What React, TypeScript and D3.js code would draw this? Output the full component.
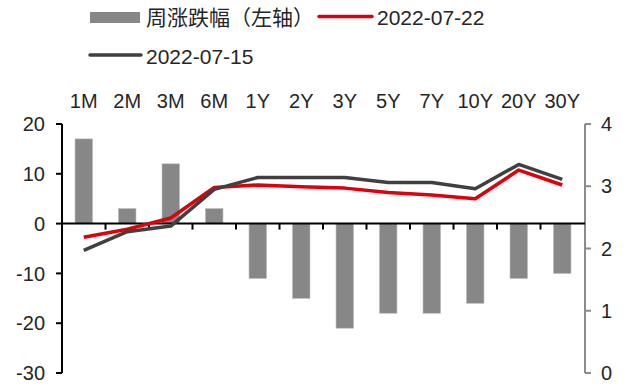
import React from "react";
import * as d3 from "d3";

const categories = ["1M", "2M", "3M", "6M", "1Y", "2Y", "3Y", "5Y", "7Y", "10Y", "20Y", "30Y"];
const weeklyChange = [17, 3, 12, 3, -11, -15, -21, -18, -18, -16, -11, -10];
const yield0722 = [2.18, 2.31, 2.49, 2.98, 3.02, 2.99, 2.97, 2.9, 2.86, 2.8, 3.26, 3.02];
const yield0715 = [1.97, 2.27, 2.36, 2.95, 3.14, 3.14, 3.14, 3.06, 3.06, 2.96, 3.35, 3.11];
const leftTicks = [20, 10, 0, -10, -20, -30];
const rightTicks = [4, 3, 2, 1, 0];
const legendBar = "周涨跌幅（左轴）";
const legendRed = "2022-07-22";
const legendDark = "2022-07-15";

const W = 627;
const H = 389;
const FONT = "'Liberation Sans', 'Noto Sans CJK SC', sans-serif";

export default function App() {
  const x = d3.scaleBand<string>().domain(categories).range([62, 584]).paddingInner(0).paddingOuter(0);
  const yL = d3.scaleLinear().domain([-30, 20]).range([373, 124]);
  const yR = d3.scaleLinear().domain([0, 4]).range([373, 124]);
  const bw = x.bandwidth() * 0.4;
  const cx = (c: string) => (x(c) as number) + x.bandwidth() / 2;

  const line = d3
    .line<number>()
    .x((_, i) => cx(categories[i]))
    .y((v) => yR(v));

  const boundaries = categories.map((c) => (x(c) as number) + x.bandwidth()).slice(0, -1);

  return (
    <svg width={W} height={H} style={{ position: "absolute", left: 0, top: 0, background: "#fff" }} fontFamily={FONT}>
      {/* legend */}
      <rect x={90} y={12} width={50} height={11} fill="#878787" />
      <text x={146} y={24.5} fontSize={21} fill="#262626">{legendBar}</text>
      <line x1={319} x2={372} y1={16.5} y2={16.5} stroke="#e0000b" strokeWidth={3.5} strokeLinecap="round" />
      <text x={377} y={24.5} fontSize={21} fill="#262626">{legendRed}</text>
      <line x1={90} x2={141} y1={55} y2={55} stroke="#404040" strokeWidth={3.5} strokeLinecap="round" />
      <text x={146} y={63.5} fontSize={21} fill="#262626">{legendDark}</text>

      {/* category labels */}
      {categories.map((c) => (
        <text key={c} x={cx(c)} y={107.5} fontSize={20} textAnchor="middle" fill="#262626">{c}</text>
      ))}

      {/* bars */}
      {weeklyChange.map((v, i) => (
        <rect
          key={categories[i]}
          x={cx(categories[i]) - bw / 2}
          y={Math.min(yL(v), yL(0))}
          width={bw}
          height={Math.abs(yL(v) - yL(0))}
          fill="#878787"
          stroke="#b5b5b5"
          strokeWidth={0.6}
        />
      ))}

      {/* left axis */}
      <line x1={62} x2={62} y1={124} y2={373} stroke="#000" strokeWidth={2} />
      {leftTicks.map((t) => (
        <g key={t}>
          <line x1={56} x2={62} y1={yL(t)} y2={yL(t)} stroke="#000" strokeWidth={2} />
          <text x={45} y={yL(t)} dy="0.36em" fontSize={20} textAnchor="end" fill="#262626">{t}</text>
        </g>
      ))}

      {/* right axis */}
      <line x1={585} x2={585} y1={124} y2={373} stroke="#8c8c8c" strokeWidth={2} />
      {rightTicks.map((t) => (
        <g key={t}>
          <line x1={585} x2={591} y1={yR(t)} y2={yR(t)} stroke="#8c8c8c" strokeWidth={2} />
          <text x={601} y={yR(t)} dy="0.36em" fontSize={20} textAnchor="start" fill="#262626">{t}</text>
        </g>
      ))}

      {/* x axis */}
      <line x1={62} x2={585} y1={yL(0)} y2={yL(0)} stroke="#000" strokeWidth={2} />
      {boundaries.map((b, i) => (
        <line key={i} x1={b} x2={b} y1={yL(0)} y2={yL(0) + 6} stroke="#000" strokeWidth={2} />
      ))}

      {/* lines */}
      <path d={line(yield0722) || ""} fill="none" stroke="#e0000b" strokeWidth={3.5} strokeLinejoin="round" />
      <path d={line(yield0715) || ""} fill="none" stroke="#404040" strokeWidth={3.5} strokeLinejoin="round" />
    </svg>
  );
}
